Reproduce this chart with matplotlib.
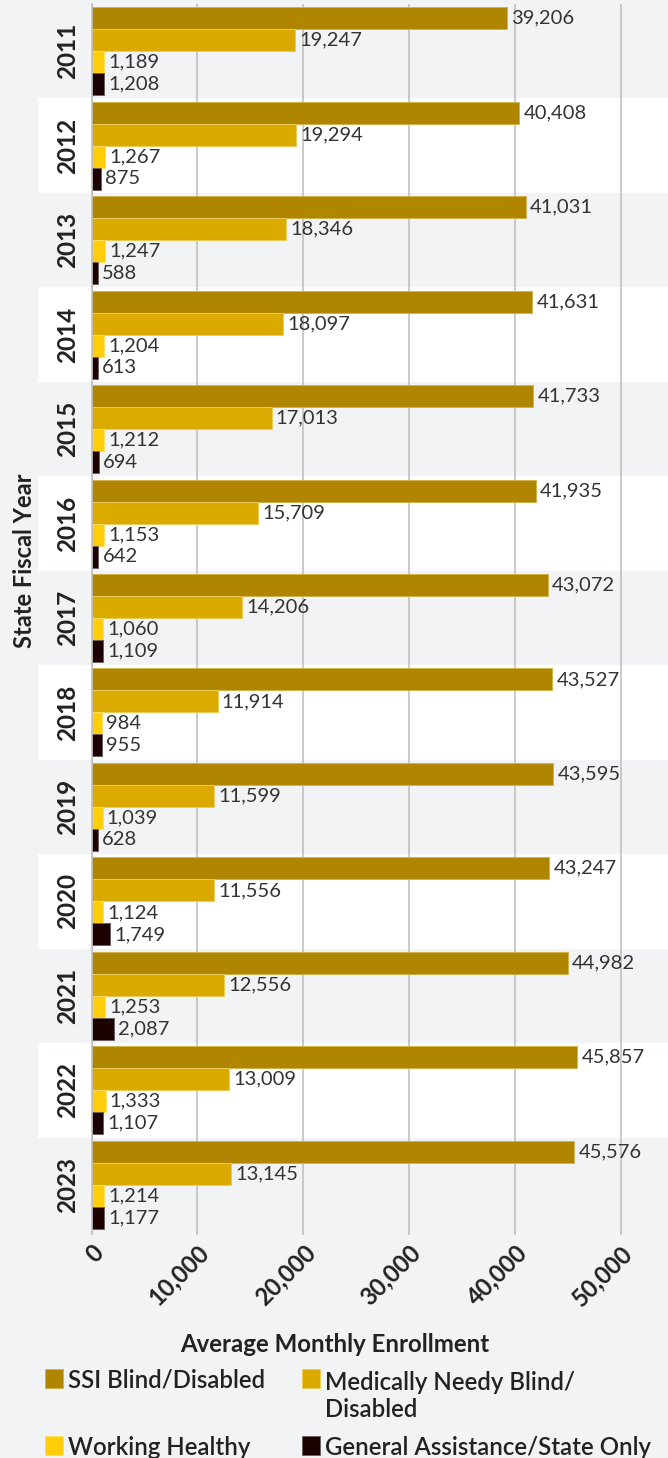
import matplotlib
matplotlib.use("Agg")
import matplotlib.pyplot as plt
import numpy as np
from matplotlib.patches import Rectangle

YEARS = ["2011", "2012", "2013", "2014", "2015", "2016", "2017",
         "2018", "2019", "2020", "2021", "2022", "2023"]
SSI = [39206, 40408, 41031, 41631, 41733, 41935, 43072,
       43527, 43595, 43247, 44982, 45857, 45576]
MEDICALLY_NEEDY = [19247, 19294, 18346, 18097, 17013, 15709, 14206,
                   11914, 11599, 11556, 12556, 13009, 13145]
WORKING_HEALTHY = [1189, 1267, 1247, 1204, 1212, 1153, 1060,
                   984, 1039, 1124, 1253, 1333, 1214]
GENERAL_ASSISTANCE = [1208, 875, 588, 613, 694, 642, 1109,
                      955, 628, 1749, 2087, 1107, 1177]
XTICKS = [0, 10000, 20000, 30000, 40000, 50000]

SERIES = [
    ("SSI Blind/Disabled", SSI, "#b08500", "#d2b24a"),
    ("Medically Needy Blind/\nDisabled", MEDICALLY_NEEDY, "#dbaa00", "#eccb55"),
    ("Working Healthy", WORKING_HEALTHY, "#ffcd0a", "#ffdf60"),
    ("General Assistance/State Only", GENERAL_ASSISTANCE, "#1c0202", "#6e6060"),
]

BG = "#f2f3f5"
GRID = "#bcbcbc"
TEXT = "#222222"
W, H = 668, 1458

plt.rcParams["font.family"] = ["Lato", "DejaVu Sans"]

fig = plt.figure(figsize=(W / 100, H / 100), dpi=100, facecolor=BG)
ax_left, ax_top, ax_bottom = 91.5, 4, 1232
ax = fig.add_axes([ax_left / W, 1 - ax_bottom / H, 1 - ax_left / W, (ax_bottom - ax_top) / H])
ax.set_facecolor(BG)

y = np.arange(len(YEARS))
bar_h = 0.233
offsets = [-1.5, -0.5, 0.5, 1.5]

# alternating row bands, reaching out past the tick labels
band_xmin = (38 - ax_left) / (W - ax_left)
for i in y:
    if i % 2 == 1:
        ax.axhspan(i - 0.5, i + 0.5, xmin=band_xmin, xmax=1, color="white",
                   zorder=0, clip_on=False, linewidth=0)

for (label, vals, color, edge), off in zip(SERIES, offsets):
    bars = ax.barh(y + off * bar_h, vals, height=bar_h, color=color,
                   edgecolor=edge, linewidth=0.7, zorder=2, label=label)
    ax.bar_label(bars, labels=[f"{v:,}" for v in vals], padding=3,
                 fontsize=14.5, color="#333333", zorder=3)

xmax = 50000 * (W - ax_left) / (621 - ax_left)
ax.set_xlim(0, xmax)
ax.set_ylim(len(YEARS) - 0.5, -0.5)
ax.set_axisbelow(True)
ax.grid(axis="x", color=GRID, linewidth=1.1)
ax.grid(axis="y", visible=False)

ax.set_xticks(XTICKS)
ax.set_xticklabels([f"{t:,}" for t in XTICKS], rotation=45, ha="right", va="top",
                   rotation_mode="anchor", fontsize=17, fontweight="bold", color=TEXT)
ax.tick_params(axis="x", length=2.5, color=GRID, width=1.1, pad=4)
ax.set_yticks(y)
ax.set_yticklabels(YEARS, rotation=90, va="center", fontsize=17.5,
                   fontweight="bold", color=TEXT)
ax.tick_params(axis="y", length=0, pad=9)

for side in ["top", "right", "bottom"]:
    ax.spines[side].set_visible(False)
ax.spines["left"].set_color(GRID)
ax.spines["left"].set_linewidth(1.1)
ax.spines["left"].set_zorder(4)

fig.text(25 / W, 1 - 561 / H, "State Fiscal Year", rotation=90, ha="center", va="center",
         fontsize=17, fontweight="bold", color=TEXT)
fig.text(335 / W, 1 - 1352 / H, "Average Monthly Enrollment", ha="center", va="baseline",
         fontsize=17.3, fontweight="bold", color=TEXT)

# legend, drawn by hand so the two columns line up row by row
# (x of the swatch, baseline of the first text line, baseline of the last line)
legend_pos = [(45, 1388, 1388), (302, 1388, 1417), (45, 1455, 1455), (302, 1455, 1455)]
for (label, vals, color, edge), (lx, top_base, last_base) in zip(SERIES, legend_pos):
    fig.add_artist(Rectangle((lx / W, 1 - top_base / H), 18 / W, 19 / H,
                             transform=fig.transFigure, facecolor=color,
                             edgecolor=edge, linewidth=0.7))
    fig.text((lx + 23) / W, 1 - last_base / H, label, ha="left", va="baseline",
             fontsize=17.3, fontweight="semibold", color=TEXT, linespacing=1.2)

fig.savefig("out.png", dpi=100, facecolor=BG)
